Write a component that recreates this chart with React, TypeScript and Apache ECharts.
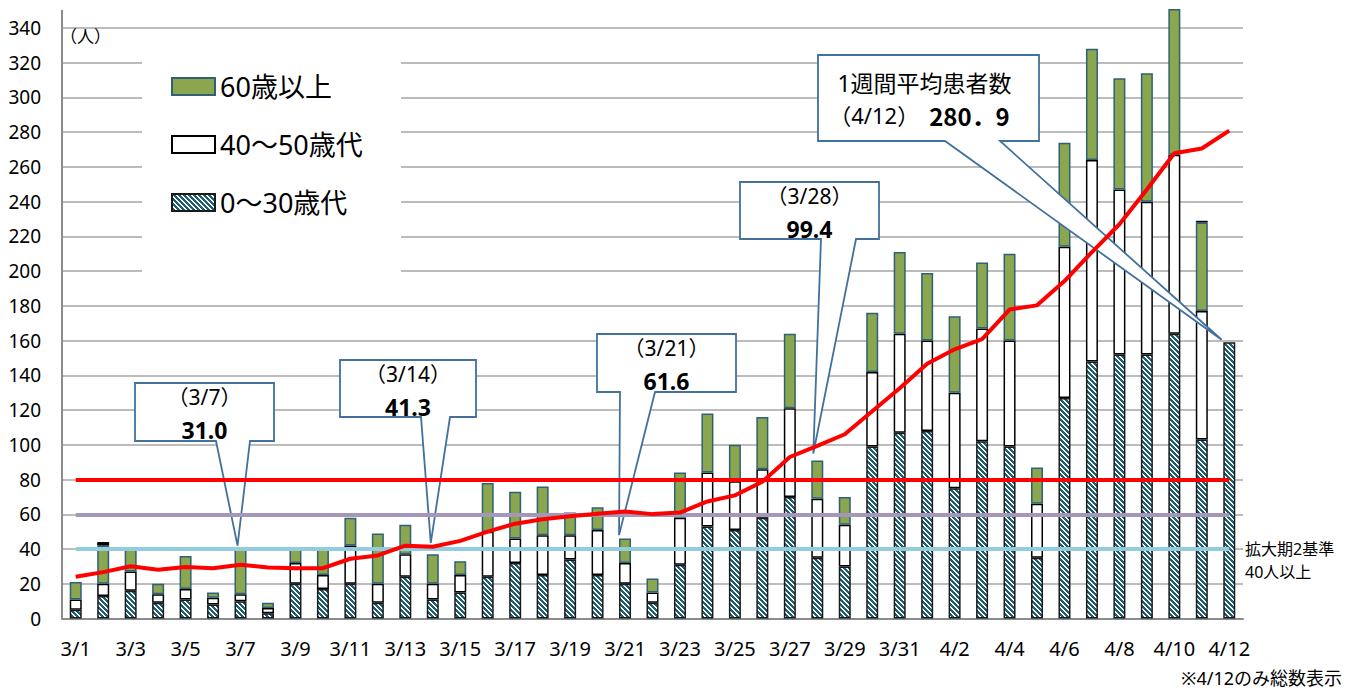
import React, { useEffect, useRef } from 'react';
import * as echarts from 'echarts';

const categories = [
  '3/1', '3/2', '3/3', '3/4', '3/5', '3/6', '3/7', '3/8', '3/9', '3/10',
  '3/11', '3/12', '3/13', '3/14', '3/15', '3/16', '3/17', '3/18', '3/19', '3/20',
  '3/21', '3/22', '3/23', '3/24', '3/25', '3/26', '3/27', '3/28', '3/29', '3/30', '3/31',
  '4/1', '4/2', '4/3', '4/4', '4/5', '4/6', '4/7', '4/8', '4/9', '4/10', '4/11', '4/12',
];

const age0to30 = [
  5, 13, 16, 9, 11, 8, 10, 3, 20, 17,
  20, 9, 24, 11, 15, 24, 32, 25, 34, 25,
  20, 9, 31, 53, 51, 58, 70, 35, 30, 99, 107,
  108, 75, 102, 99, 35, 127, 148, 152, 152, 164, 103, 159,
];

const age40to50 = [
  6, 7, 11, 5, 6, 4, 4, 3, 12, 8,
  22, 11, 13, 9, 10, 26, 14, 23, 14, 26,
  12, 6, 27, 31, 28, 28, 51, 34, 24, 43, 57,
  52, 55, 65, 61, 31, 87, 116, 95, 88, 103, 74, null,
];

const age60plus = [
  10, 22, 13, 6, 19, 3, 27, 3, 9, 16,
  16, 29, 17, 17, 8, 28, 27, 28, 13, 13,
  14, 8, 26, 34, 21, 30, 43, 22, 16, 34, 47,
  39, 44, 38, 50, 21, 60, 64, 64, 74, 84, 51, null,
];

const ageUnknown = [
  null, 2, null, null, null, null, null, null, null, null,
  null, null, null, null, null, null, null, null, null, null,
  null, null, null, null, null, null, null, null, null, null, null,
  null, null, null, null, null, null, null, null, null, null, 1, null,
];

const weeklyAvg = [
  24.0, 26.7, 30.1, 28.1, 29.7, 28.9, 31.0, 29.3, 28.9, 29.0,
  34.4, 36.3, 41.9, 41.3, 44.7, 50.0, 54.6, 57.1, 58.9, 60.3,
  61.6, 60.1, 61.0, 67.4, 70.9, 78.7, 93.0, 99.4, 106.1, 119.3, 132.6,
  146.7, 155.0, 160.9, 177.9, 180.3, 194.3, 211.0, 227.0, 247.0, 267.9, 270.6, 280.9,
];

const yTicks = { min: 0, max: 340, interval: 20 };
const thresholdValues = [80, 60, 40];

const calloutDates = ['3/7', '3/14', '3/21', '3/28', '4/12'];
const calloutTipValues = [42, 43.5, 48, 95, 160.5];
const calloutTitles = ['（3/7）', '（3/14）', '（3/21）', '（3/28）', '（4/12）'];
const calloutValues = ['31.0', '41.3', '61.6', '99.4', '280．9'];

const seriesNames = ['0～30歳代', '40～50歳代', '60歳以上', '調査中', '1週間平均'];
const legendOrder = ['60歳以上', '40～50歳代', '0～30歳代'];

// ---------- layout & style ----------
const FONT = '"Noto Sans", "Noto Sans CJK JP", sans-serif';
const CJK = '"Noto Sans CJK JP", sans-serif';
const thresholdColors = ['#FF0000', '#A597BA', '#93CDDD'];
const calloutLayout = [
  { l: 135, t: 383, r: 274, b: 441, bl: 216, br: 250, dx: -3 },
  { l: 340, t: 360, r: 476, b: 417, bl: 421, br: 450, dx: -2 },
  { l: 597, t: 334, r: 736, b: 392, bl: 620, br: 655, dx: -6 },
  { l: 740, t: 182, r: 879, b: 239, bl: 821, br: 856, dx: -4 },
  { l: 818, t: 55, r: 1039, b: 141, bl: 945, br: 1000, dx: -7.6 },
];

function makeHatch(): HTMLCanvasElement {
  const n = 5;
  const c = document.createElement('canvas');
  c.width = n;
  c.height = n;
  const ctx = c.getContext('2d') as CanvasRenderingContext2D;
  ctx.fillStyle = '#FFFFFF';
  ctx.fillRect(0, 0, n, n);
  ctx.fillStyle = '#1F5E6E';
  for (let x = 0; x < n; x++) {
    for (let y = 0; y < n; y++) {
      if ((((x - y) % n) + n) % n < 3) ctx.fillRect(x, y, 1, 1);
    }
  }
  return c;
}

export default function App() {
  const ref = useRef<HTMLDivElement>(null);
  useEffect(() => {
    const chart = echarts.init(ref.current as HTMLDivElement, null, { renderer: 'svg' });
    const hatch = makeHatch();
    const barCommon = { type: 'bar', stack: 'total', barWidth: 12, clip: false, z: 2 };
    const option: any = {
      animation: false,
      grid: { left: 62, right: 111, top: 28, bottom: 72.5 },
      legend: {
        data: legendOrder,
        orient: 'vertical',
        left: 166,
        top: 68,
        itemWidth: 43,
        itemHeight: 17,
        itemGap: 31,
        icon: 'rect',
        textStyle: { fontSize: 27, color: '#000', fontFamily: FONT },
        z: 5,
      },
      xAxis: {
        type: 'category',
        data: categories,
        boundaryGap: true,
        axisLine: { show: true, lineStyle: { color: '#8C8C8C', width: 2 } },
        axisTick: { show: false },
        axisLabel: { interval: 1, fontSize: 20, color: '#000', margin: 20, fontFamily: FONT },
      },
      yAxis: {
        type: 'value',
        min: yTicks.min,
        max: yTicks.max,
        interval: yTicks.interval,
        axisLine: { show: true, lineStyle: { color: '#8C8C8C', width: 2 } },
        axisTick: { show: false },
        axisLabel: { fontSize: 19, color: '#000', margin: 21, fontFamily: FONT },
        splitLine: { lineStyle: { color: '#A6A6A6', width: 1.5 } },
      },
      series: [
        {
          ...barCommon,
          name: seriesNames[0],
          data: age0to30,
          itemStyle: {
            color: { image: hatch, repeat: 'repeat' },
            borderColor: '#1A1A1A',
            borderWidth: 1.5,
          },
        },
        {
          ...barCommon,
          name: seriesNames[1],
          data: age40to50,
          itemStyle: { color: '#FFFFFF', borderColor: '#000000', borderWidth: 1.5 },
        },
        {
          ...barCommon,
          name: seriesNames[2],
          data: age60plus,
          itemStyle: { color: '#8AA64E', borderColor: '#2F6076', borderWidth: 1.5 },
        },
        {
          ...barCommon,
          name: seriesNames[3],
          data: ageUnknown,
          itemStyle: { color: '#000000', borderColor: '#000000', borderWidth: 1 },
        },
        {
          type: 'line',
          name: seriesNames[4],
          data: weeklyAvg,
          symbol: 'none',
          z: 6,
          lineStyle: { color: '#FF0000', width: 4 },
          markLine: {
            symbol: 'none',
            silent: true,
            z: 5,
            label: { show: false },
            data: thresholdValues.map((v, i) => [
              { coord: [categories[0], v], lineStyle: { color: thresholdColors[i], width: 4, type: 'solid' } },
              { coord: [categories[categories.length - 1], v] },
            ]),
          },
        },
      ],
    };
    chart.setOption(option);

    const txt = (x: number, y: number, text: string, size: number, align: string, extra: any = {}) => ({
      type: 'text', x, y, z: 4,
      style: {
        text, fontSize: size, fontFamily: FONT, fill: '#000',
        align, verticalAlign: 'middle', textAlign: align, textVerticalAlign: 'middle', ...extra,
      },
    });

    const elements: any[] = [
      { type: 'rect', shape: { x: 142, y: 50, width: 259, height: 235 }, style: { fill: '#FFFFFF' }, z: 1 },
      { type: 'line', shape: { x1: 62, y1: 10, x2: 62, y2: 28 }, style: { stroke: '#8C8C8C', lineWidth: 2 }, z: 1 },
      txt(60, 35, '（人）', 17, 'left', { fontFamily: CJK }),
      txt(1245, 549, '拡大期2基準', 16, 'left'),
      txt(1245, 572, '40人以上', 16, 'left'),
      txt(1342, 678, '※4/12のみ総数表示', 18, 'right'),
    ];

    calloutDates.forEach((d, i) => {
      const L = calloutLayout[i];
      const p = chart.convertToPixel({ xAxisIndex: 0, yAxisIndex: 0 }, [d, calloutTipValues[i]]) as number[];
      const tipX = p[0] + L.dx;
      const tipY = p[1];
      elements.push({
        type: 'polygon',
        z: 3,
        shape: {
          points: [
            [L.l, L.t], [L.r, L.t], [L.r, L.b], [L.br, L.b], [tipX, tipY], [L.bl, L.b], [L.l, L.b],
          ],
        },
        style: { fill: '#FFFFFF', stroke: '#41719C', lineWidth: 1.8, lineJoin: 'miter' },
      });
      const cx = (L.l + L.r) / 2;
      if (i < 4) {
        elements.push(txt(cx, L.t + 14, calloutTitles[i], 21, 'center'));
        elements.push(txt(cx, L.t + 47, calloutValues[i], 23, 'center', { fontWeight: 'bold' }));
      } else {
        elements.push(txt(cx - 4, L.t + 28, '1週間平均患者数', 23, 'center'));
        elements.push({
          type: 'text', x: cx - 9, y: L.t + 60, z: 4,
          style: {
            text: '{a|' + calloutTitles[i] + '}{b|' + calloutValues[i] + '}',
            align: 'center', verticalAlign: 'middle', textAlign: 'center', textVerticalAlign: 'middle',
            rich: {
              a: { fontSize: 22, fontFamily: FONT, fill: '#000', color: '#000' },
              b: { fontSize: 24, fontWeight: 'bold', fontFamily: CJK, fill: '#000', color: '#000', padding: [0, 0, 0, 10] },
            },
          },
        });
      }
    });

    chart.setOption({ graphic: { elements } });
    return () => chart.dispose();
  }, []);
  return <div ref={ref} style={{ position: 'absolute', left: 0, top: 0, width: 1354, height: 691 }} />;
}
